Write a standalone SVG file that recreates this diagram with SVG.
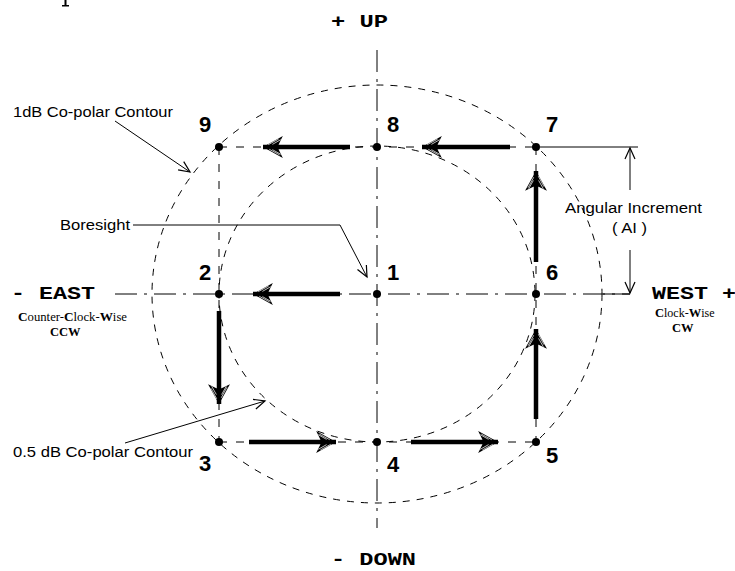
<svg xmlns="http://www.w3.org/2000/svg" width="735" height="571" viewBox="0 0 735 571">
<style>
.bg{fill:#fff}
.axis{fill:none;stroke:#000;stroke-width:1;stroke-dasharray:22 7 3 7}
.ell{fill:none;stroke:#000;stroke-width:1;stroke-dasharray:7 7}
.sq{fill:none;stroke:#000;stroke-width:1;stroke-dasharray:8 9}
.thin{fill:none;stroke:#000;stroke-width:1}
.shaft{fill:none;stroke:#000;stroke-width:4.5}
.dot{fill:#000}
.num{font-family:"Liberation Sans",Arial,sans-serif;font-weight:bold;font-size:22px;fill:#000}
.lbl{font-family:"Liberation Sans",Arial,sans-serif;font-size:15.5px;fill:#000}
.dir{font-family:"Liberation Mono","Courier New",monospace;font-weight:bold;font-size:19px;fill:#000}
.ser{font-family:"Liberation Serif","Times New Roman",serif;font-size:12px;fill:#000}
.serb{font-family:"Liberation Serif","Times New Roman",serif;font-size:12.5px;font-weight:bold;fill:#000}
</style>
<defs>
<marker id="big" markerUnits="userSpaceOnUse" markerWidth="24" markerHeight="26" viewBox="-21 -12 23 24" refX="0" refY="0" orient="auto">
<path d="M0,0 L-19,-10.5 L-15,-2.5 L-15,2.5 L-19,10.5 Z" fill="#000"/>
<path d="M-6,-2.2 L-16,-7.6 M-5,2.2 L-15,7.6 M-9,-2.5 L-17,-7 M-9,2.5 L-17,7" stroke="#fff" stroke-width="0.7" fill="none"/>
</marker>
<marker id="open" markerUnits="userSpaceOnUse" markerWidth="14" markerHeight="14" viewBox="-12 -7 14 14" refX="0" refY="0" orient="auto">
<path d="M-11,-5 L0,0 L-11,5" fill="none" stroke="#000" stroke-width="1.2"/>
</marker>
</defs>
<rect class="bg" x="0" y="0" width="735" height="571"/>
<path d="M64.5,0 h2 v5 h2.5 v1.5 h-7 v-1.5 h2.5 Z" fill="#000"/>

<g id="contours">
<ellipse class="ell" cx="377" cy="294" rx="225" ry="209"/>
<ellipse class="ell" cx="377" cy="294" rx="158" ry="148"/>
</g>

<g id="axes">
<line class="axis" x1="377" y1="50" x2="377" y2="528"/>
<line class="axis" x1="115" y1="294" x2="630" y2="294"/>
</g>

<g id="grid">
<line class="sq" x1="219" y1="147" x2="536" y2="147"/>
<line class="sq" x1="219" y1="442" x2="536" y2="442"/>
<line class="sq" x1="219" y1="147" x2="219" y2="442"/>
<line class="sq" x1="536" y1="147" x2="536" y2="442"/>
</g>

<g id="connectors">
<line class="shaft" x1="510" y1="147" x2="422" y2="147" marker-end="url(#big)"/>
<line class="shaft" x1="350" y1="147" x2="263" y2="147" marker-end="url(#big)"/>
<line class="shaft" x1="340" y1="294" x2="253" y2="294" marker-end="url(#big)"/>
<line class="shaft" x1="219" y1="311" x2="219" y2="404" marker-end="url(#big)"/>
<line class="shaft" x1="249" y1="442" x2="336" y2="442" marker-end="url(#big)"/>
<line class="shaft" x1="411" y1="442" x2="498" y2="442" marker-end="url(#big)"/>
<line class="shaft" x1="536" y1="419" x2="536" y2="329" marker-end="url(#big)"/>
<line class="shaft" x1="536" y1="262" x2="536" y2="171" marker-end="url(#big)"/>
<line class="thin" x1="115" y1="121" x2="190" y2="172" marker-end="url(#open)"/>
<polyline class="thin" points="133,225 340,225 367,277" marker-end="url(#open)"/>
<line class="thin" x1="125" y1="443" x2="265" y2="401" marker-end="url(#open)"/>
<line class="thin" x1="540" y1="147" x2="638" y2="147"/>
<line class="thin" x1="630" y1="190" x2="630" y2="148" marker-end="url(#open)"/>
<line class="thin" x1="630" y1="250" x2="630" y2="293" marker-end="url(#open)"/>
<line class="thin" x1="603" y1="294" x2="630" y2="294"/>
</g>

<g id="n1"><circle class="dot" cx="377" cy="294" r="4"/><text class="num" x="387" y="280">1</text></g>
<g id="n2"><circle class="dot" cx="219" cy="294" r="4"/><text class="num" x="199" y="280">2</text></g>
<g id="n3"><circle class="dot" cx="219" cy="442" r="4"/><text class="num" x="199" y="471">3</text></g>
<g id="n4"><circle class="dot" cx="377" cy="442" r="4"/><text class="num" x="387" y="472">4</text></g>
<g id="n5"><circle class="dot" cx="536" cy="442" r="4"/><text class="num" x="546" y="463">5</text></g>
<g id="n6"><circle class="dot" cx="536" cy="294" r="4"/><text class="num" x="546" y="280">6</text></g>
<g id="n7"><circle class="dot" cx="536" cy="147" r="4"/><text class="num" x="546" y="132">7</text></g>
<g id="n8"><circle class="dot" cx="377" cy="147" r="4"/><text class="num" x="387" y="132">8</text></g>
<g id="n9"><circle class="dot" cx="219" cy="147" r="4"/><text class="num" x="199" y="132">9</text></g>

<g id="labels">
<text class="dir" x="331" y="27" textLength="57" lengthAdjust="spacingAndGlyphs">+ UP</text>
<text class="dir" x="11" y="299" textLength="84" lengthAdjust="spacingAndGlyphs">- EAST</text>
<text class="dir" x="652" y="299" textLength="84" lengthAdjust="spacingAndGlyphs">WEST +</text>
<text class="dir" x="331" y="565" textLength="85" lengthAdjust="spacingAndGlyphs">- DOWN</text>
<text class="ser" x="18" y="321" textLength="109" lengthAdjust="spacingAndGlyphs"><tspan class="serb" font-size="14">C</tspan>ounter-<tspan class="serb" font-size="14">C</tspan>lock-<tspan class="serb" font-size="14">W</tspan>ise</text>
<text class="serb" x="50" y="336">CCW</text>
<text class="ser" x="655" y="317" font-size="11"><tspan class="serb" font-size="13">C</tspan>lock-<tspan class="serb" font-size="13">W</tspan>ise</text>
<text class="serb" x="672" y="332" font-size="11">CW</text>
<text class="lbl" x="13" y="117" textLength="160" lengthAdjust="spacingAndGlyphs">1dB Co-polar Contour</text>
<text class="lbl" x="60" y="230" textLength="70" lengthAdjust="spacingAndGlyphs">Boresight</text>
<text class="lbl" x="13" y="457" textLength="180" lengthAdjust="spacingAndGlyphs">0.5 dB Co-polar Contour</text>
<text class="lbl" x="565" y="213" textLength="137" lengthAdjust="spacingAndGlyphs">Angular Increment</text>
<text class="lbl" x="612" y="233" textLength="35" lengthAdjust="spacingAndGlyphs">( AI )</text>
</g>
</svg>
